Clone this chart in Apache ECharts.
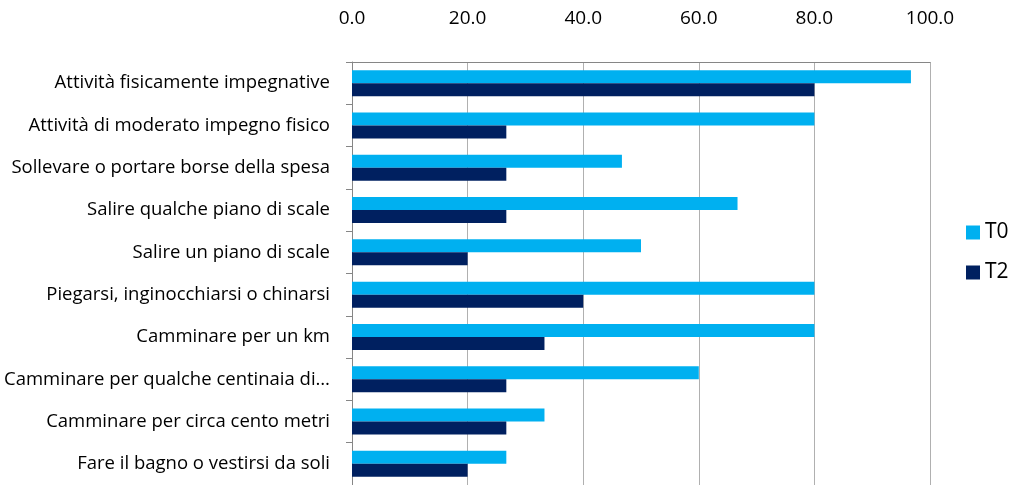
<!DOCTYPE html>
<html>
<head>
<meta charset="utf-8">
<script src="https://cdn.jsdelivr.net/npm/echarts@6/dist/echarts.min.js"></script>
<style>html,body{margin:0;padding:0;background:#fff;}#c{width:1014px;height:485px;}</style>
</head>
<body>
<div id="c"></div>
<script>
var categories = [
  "Attività fisicamente impegnative",
  "Attività di moderato impegno fisico",
  "Sollevare o portare borse della spesa",
  "Salire qualche piano di scale",
  "Salire un piano di scale",
  "Piegarsi, inginocchiarsi o chinarsi",
  "Camminare per un km",
  "Camminare per qualche centinaia di…",
  "Camminare per circa cento metri",
  "Fare il bagno o vestirsi da soli"
];
var seriesNames = ["T0", "T2"];
var t0Values = [96.7, 80.0, 46.7, 66.7, 50.0, 80.0, 80.0, 60.0, 33.3, 26.7];
var t2Values = [80.0, 26.7, 26.7, 26.7, 20.0, 40.0, 33.3, 26.7, 26.7, 20.0];
var xTicks = [0, 20, 40, 60, 80, 100];

var FONT = "Open Sans";
var chart = echarts.init(document.getElementById('c'));
chart.setOption({
  animation: false,
  textStyle: {fontFamily: FONT},
  legend: {
    orient: 'vertical',
    left: 961, top: 217,
    itemWidth: 14, itemHeight: 14, itemGap: 19,
    icon: 'rect',
    textStyle: {fontSize: 21, color: '#000', fontFamily: FONT},
    data: seriesNames
  },
  grid: {left: 352, right: 84, top: 62, bottom: -7, containLabel: false},
  xAxis: {
    type: 'value', position: 'top',
    min: xTicks[0], max: xTicks[xTicks.length - 1], interval: 20,
    axisLine: {show: true, lineStyle: {color: '#868686', width: 1}},
    axisTick: {show: false},
    splitLine: {show: true, lineStyle: {color: '#b0b0b0', width: 1}},
    axisLabel: {fontSize: 19, color: '#000', margin: 34, formatter: function (v) { return v.toFixed(1); }}
  },
  yAxis: {
    type: 'category', inverse: true, data: categories,
    axisLine: {show: true, lineStyle: {color: '#868686', width: 1}},
    axisTick: {show: true, length: 6, lineStyle: {color: '#868686'}},
    axisLabel: {fontSize: 18.5, color: '#000', margin: 22}
  },
  series: [
    {name: seriesNames[0], type: 'bar', data: t0Values, barWidth: 13, barGap: '0%', itemStyle: {color: '#00B0F0'}},
    {name: seriesNames[1], type: 'bar', data: t2Values, barWidth: 13, barGap: '0%', itemStyle: {color: '#002060'}}
  ]
});
</script>
</body>
</html>
